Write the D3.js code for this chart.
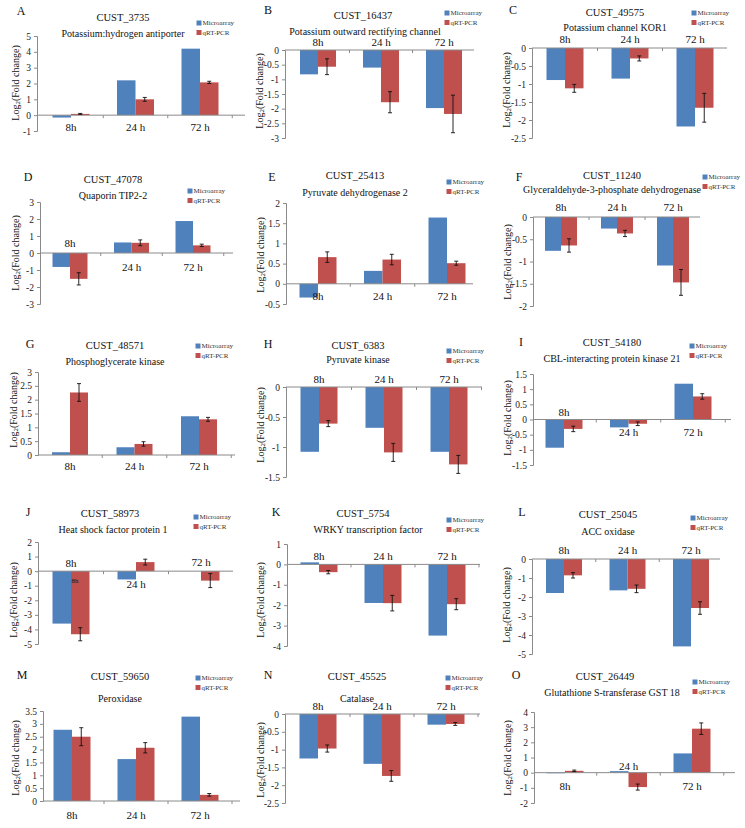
<!DOCTYPE html>
<html>
<head>
<meta charset="utf-8">
<script src="https://cdn.jsdelivr.net/npm/d3@7/dist/d3.min.js"></script>
<style>
  html, body { margin: 0; padding: 0; background: #fff; }
  svg { display: block; font-family: "Liberation Serif", "Times New Roman", serif; }
</style>
</head>
<body>
<svg id="chart" width="745" height="828"></svg>
<script>
// ---------------- DATA ----------------
const timePoints = ["8h", "24 h", "72 h"];
const seriesNames = ["Microarray", "qRT-PCR"];
const panelLetters = ["A","B","C","D","E","F","G","H","I","J","K","L","M","N","O"];
const geneIds = ["CUST_3735","CUST_16437","CUST_49575","CUST_47078","CUST_25413","CUST_11240",
  "CUST_48571","CUST_6383","CUST_54180","CUST_58973","CUST_5754","CUST_25045",
  "CUST_59650","CUST_45525","CUST_26449"];
const geneNames = ["Potassium:hydrogen antiporter","Potassium outward rectifying channel","Potassium channel KOR1",
  "Quaporin TIP2-2","Pyruvate dehydrogenase 2","Glyceraldehyde-3-phosphate dehydrogenase",
  "Phosphoglycerate kinase","Pyruvate kinase","CBL-interacting protein kinase 21",
  "Heat shock factor protein 1","WRKY transcription factor","ACC oxidase",
  "Peroxidase","Catalase","Glutathione S-transferase GST 18"];
const microarray = [
  [-0.15, 2.2, 4.2],
  [-0.83, -0.6, -1.98],
  [-0.89, -0.85, -2.18],
  [-0.82, 0.62, 1.88],
  [-0.34, 0.32, 1.64],
  [-0.76, -0.26, -1.09],
  [0.1, 0.28, 1.4],
  [-1.08, -0.68, -1.08],
  [-0.93, -0.26, 1.18],
  [-3.6, -0.57, 0.0],
  [0.1, -1.89, -3.49],
  [-1.79, -1.65, -4.6],
  [2.77, 1.63, 3.28],
  [-1.25, -1.4, -0.3],
  [-0.04, 0.1, 1.27]
];
const qrtpcr = [
  [0.08, 1.0, 2.07],
  [-0.57, -1.78, -2.18],
  [-1.12, -0.29, -1.66],
  [-1.52, 0.6, 0.45],
  [0.66, 0.6, 0.51],
  [-0.64, -0.37, -1.47],
  [2.26, 0.4, 1.29],
  [-0.61, -1.09, -1.29],
  [-0.31, -0.14, 0.76],
  [-4.33, 0.62, -0.65],
  [-0.38, -1.9, -1.95],
  [-0.86, -1.57, -2.58],
  [2.5, 2.07, 0.24],
  [-0.97, -1.74, -0.28],
  [0.12, -0.95, 2.9]
];
const qrtpcrErr = [
  [0.03, 0.12, 0.07],
  [0.27, 0.36, 0.64],
  [0.11, 0.07, 0.4],
  [0.36, 0.17, 0.07],
  [0.13, 0.13, 0.05],
  [0.15, 0.07, 0.29],
  [0.32, 0.08, 0.07],
  [0.05, 0.15, 0.15],
  [0.09, 0.06, 0.09],
  [0.45, 0.2, 0.48],
  [0.08, 0.38, 0.27],
  [0.14, 0.2, 0.33],
  [0.35, 0.2, 0.05],
  [0.1, 0.15, 0.04],
  [0.05, 0.2, 0.38]
];
const yTickValues = [
  [-1,0,1,2,3,4,5],
  [-3,-2.5,-2,-1.5,-1,-0.5,0],
  [-2.5,-2,-1.5,-1,-0.5,0],
  [-3,-2,-1,0,1,2,3],
  [-0.5,0,0.5,1,1.5,2],
  [-2,-1.5,-1,-0.5,0],
  [0,0.5,1,1.5,2,2.5,3],
  [-1.5,-1,-0.5,0],
  [-1.5,-1,-0.5,0,0.5,1,1.5],
  [-5,-4,-3,-2,-1,0,1,2],
  [-4,-3,-2,-1,0,1],
  [-5,-4,-3,-2,-1,0],
  [0,0.5,1,1.5,2,2.5,3,3.5],
  [-2.5,-2,-1.5,-1,-0.5,0],
  [-2,-1,0,1,2,3,4]
];

// ---------------- LAYOUT (positions only) ----------------
const layouts = [
  {ax:37,  yTop:36,  yBot:131, xEnd:245, c0:71,  step:64.5, bw:18.5, labY:[127,127,127], title:[123,17],  sub:[123,33],  leg:[199,23],  letter:[21,11],  yl:[15,83]},
  {ax:285, yTop:50,  yBot:138, xEnd:474, c0:318, step:63,   bw:18,   labY:[42,42,42],    title:[363,15],  sub:[365,31],  leg:[447,13],  letter:[268,10], yl:[259,91]},
  {ax:532, yTop:48,  yBot:138, xEnd:727, c0:565, step:65,   bw:18.5, labY:[39,39,39],    title:[615,12],  sub:[615,27],  leg:[694,13],  letter:[513,10], yl:[506,90]},
  {ax:40,  yTop:202, yBot:304, xEnd:233, c0:70,  step:61.5, bw:17.5, labY:[243,267,267], title:[113,179], sub:[113,195], leg:[190,191], letter:[28,177], yl:[15,253]},
  {ax:286, yTop:203, yBot:304, xEnd:473, c0:318, step:64.5, bw:18.5, labY:[296,296,296], title:[355,175], sub:[355,192], leg:[449,182], letter:[272,177],yl:[260,255]},
  {ax:533, yTop:217, yBot:306, xEnd:700, c0:561, step:56,   bw:16,   labY:[207,207,207], title:[612,175], sub:[612,189], leg:[705,177], letter:[519,177],yl:[507,262]},
  {ax:38,  yTop:372, yBot:455, xEnd:235, c0:70,  step:64.5, bw:18,   labY:[466,466,466], title:[115,345], sub:[115,361], leg:[198,346], letter:[30,344], yl:[13,410]},
  {ax:286, yTop:387, yBot:477, xEnd:482, c0:319, step:65,   bw:18.5, labY:[379,379,379], title:[358,345], sub:[358,359], leg:[449,351], letter:[268,344],yl:[260,425]},
  {ax:533, yTop:374, yBot:465, xEnd:731, c0:564, step:64.5, bw:18.5, labY:[412,432,432], title:[612,342], sub:[612,358], leg:[692,346], letter:[521,342],yl:[507,418]},
  {ax:38,  yTop:542, yBot:644, xEnd:233, c0:71,  step:65,   bw:18.5, labY:[563,584,562], title:[110,513], sub:[113,529], leg:[196,517], letter:[28,512], yl:[13,600], extra:[75,581,"8h"]},
  {ax:287, yTop:544, yBot:646, xEnd:480, c0:319, step:64,   bw:18.5, labY:[556,556,556], title:[363,513], sub:[368,529], leg:[449,520], letter:[276,512],yl:[260,600]},
  {ax:532, yTop:559, yBot:654, xEnd:720, c0:564, step:63.5, bw:18,   labY:[550,550,550], title:[608,514], sub:[608,531], leg:[693,518], letter:[522,512],yl:[506,605]},
  {ax:43,  yTop:711, yBot:801, xEnd:240, c0:72,  step:64,   bw:18.5, labY:[815,815,815], title:[120,676], sub:[120,698], leg:[198,678], letter:[22,675], yl:[15,758]},
  {ax:285, yTop:714, yBot:803, xEnd:480, c0:318, step:64,   bw:18.5, labY:[706,706,706], title:[357,676], sub:[357,698], leg:[448,678], letter:[268,675],yl:[260,760]},
  {ax:534, yTop:712, yBot:803, xEnd:735, c0:565, step:63.5, bw:18.5, labY:[786,766,786], title:[605,676], sub:[612,692], leg:[695,682], letter:[516,675],yl:[507,758]}
];

const colors = {"Microarray": "#4F81BD", "qRT-PCR": "#C0504D"};
const axisColor = "#8a8a8a";

const svg = d3.select("#chart");

panelLetters.forEach((letter, i) => {
  const L = layouts[i];
  const ticks = yTickValues[i];
  const g = svg.append("g");

  const y = d3.scaleLinear().domain([d3.min(ticks), d3.max(ticks)]).range([L.yBot, L.yTop]);
  const p = 1 - 2 * L.bw / L.step;
  const x = d3.scaleBand().domain(timePoints)
    .range([L.c0 - L.step / 2, L.c0 + 2.5 * L.step])
    .paddingInner(p).paddingOuter(p / 2);
  const xs = d3.scaleBand().domain(seriesNames).range([0, x.bandwidth()]);

  // y axis
  const yAxis = d3.axisLeft(y).tickValues(ticks).tickSize(3).tickPadding(3)
    .tickFormat(d => String(+d.toFixed(2)));
  const ya = g.append("g").attr("transform", `translate(${L.ax},0)`).call(yAxis);
  ya.select(".domain").attr("stroke", axisColor);
  ya.selectAll(".tick line").attr("stroke", axisColor);
  ya.selectAll(".tick text").attr("font-size", 9.5).attr("fill", "#222")
    .attr("font-family", "Liberation Serif, Times New Roman, serif");

  // bars
  const rows = timePoints.map((t, k) => ({t, m: microarray[i][k], q: qrtpcr[i][k], e: qrtpcrErr[i][k]}));
  rows.forEach(r => {
    [["Microarray", r.m], ["qRT-PCR", r.q]].forEach(([s, v]) => {
      g.append("rect")
        .attr("x", x(r.t) + xs(s))
        .attr("width", xs.bandwidth())
        .attr("y", y(Math.max(0, v)))
        .attr("height", Math.abs(y(v) - y(0)))
        .attr("fill", colors[s]);
    });
  });

  // x axis line at zero
  const y0 = y(0);
  g.append("line").attr("x1", L.ax).attr("x2", L.xEnd).attr("y1", y0).attr("y2", y0)
    .attr("stroke", axisColor).attr("stroke-width", 1);
  // category boundary ticks
  [1, 2, 3].forEach(k => {
    const bx = x.range()[0] + k * x.step();
    if (bx < L.xEnd) g.append("line").attr("x1", bx).attr("x2", bx).attr("y1", y0).attr("y2", y0 + 3)
      .attr("stroke", axisColor);
  });

  // error bars
  rows.forEach(r => {
    const cx = x(r.t) + xs("qRT-PCR") + xs.bandwidth() / 2;
    const yt = y(r.q + r.e), yb = y(r.q - r.e);
    g.append("line").attr("x1", cx).attr("x2", cx).attr("y1", yt).attr("y2", yb).attr("stroke", "#111").attr("stroke-width", 0.9);
    [yt, yb].forEach(yy => g.append("line").attr("x1", cx - 2).attr("x2", cx + 2).attr("y1", yy).attr("y2", yy)
      .attr("stroke", "#111").attr("stroke-width", 0.9));
  });

  // category labels
  timePoints.forEach((t, k) => {
    g.append("text").attr("x", x(t) + x.bandwidth() / 2).attr("y", L.labY[k])
      .attr("text-anchor", "middle").attr("dominant-baseline", "central")
      .attr("font-size", 11).attr("fill", "#111").text(t);
  });
  if (L.extra) {
    g.append("text").attr("x", L.extra[0]).attr("y", L.extra[1]).attr("text-anchor", "middle")
      .attr("dominant-baseline", "central").attr("font-size", 7).attr("fill", "#111").text(L.extra[2]);
  }

  // titles
  g.append("text").attr("x", L.title[0]).attr("y", L.title[1]).attr("text-anchor", "middle")
    .attr("dominant-baseline", "central").attr("font-size", 10.5).attr("fill", "#111").text(geneIds[i]);
  g.append("text").attr("x", L.sub[0]).attr("y", L.sub[1]).attr("text-anchor", "middle")
    .attr("dominant-baseline", "central").attr("font-size", 10).attr("fill", "#111").text(geneNames[i]);

  // panel letter
  g.append("text").attr("x", L.letter[0]).attr("y", L.letter[1]).attr("text-anchor", "middle")
    .attr("dominant-baseline", "central").attr("font-size", 12).attr("fill", "#111").text(letter);

  // y label
  const yl = g.append("text").attr("transform", `translate(${L.yl[0]},${L.yl[1]}) rotate(-90)`)
    .attr("text-anchor", "middle").attr("dominant-baseline", "central").attr("font-size", 10).attr("fill", "#111");
  yl.append("tspan").text("Log");
  yl.append("tspan").attr("font-size", 7).attr("dy", 3).text("2");
  yl.append("tspan").attr("dy", -3).text("(Fold change)");

  // legend
  seriesNames.forEach((s, k) => {
    const ly = L.leg[1] + k * 9.5;
    g.append("rect").attr("x", L.leg[0] - 2.5).attr("y", ly - 2.5).attr("width", 5).attr("height", 5).attr("fill", colors[s]);
    g.append("text").attr("x", L.leg[0] + 3.5).attr("y", ly).attr("dominant-baseline", "central")
      .attr("font-size", 7).attr("fill", "#333").text(s);
  });
});
</script>
</body>
</html>
